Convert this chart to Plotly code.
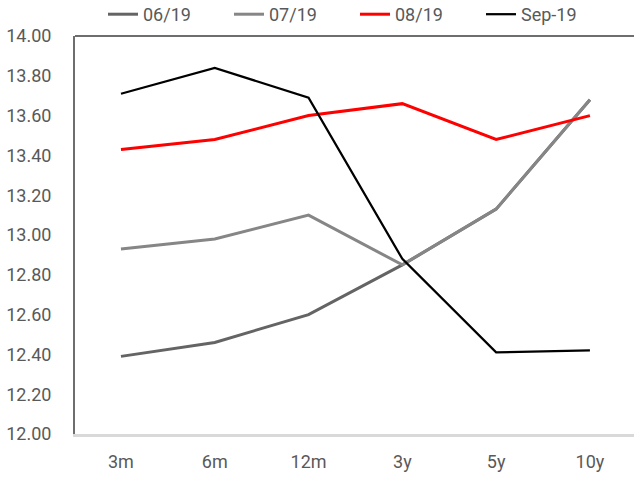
import plotly.graph_objects as go

categories = ["3m", "6m", "12m", "3y", "5y", "10y"]
s_0619 = [12.39, 12.46, 12.60, 12.85, 13.13, 13.68]
s_0719 = [12.93, 12.98, 13.10, 12.85, 13.13, 13.68]
s_0819 = [13.43, 13.48, 13.60, 13.66, 13.48, 13.60]
s_sep19 = [13.71, 13.84, 13.69, 12.88, 12.41, 12.42]
y_ticks = [12.0, 12.2, 12.4, 12.6, 12.8, 13.0, 13.2, 13.4, 13.6, 13.8, 14.0]

FONT = "Roboto, Liberation Sans, sans-serif"
TXT = "#595959"

series = [
    ("06/19", s_0619, "#646464", 3),
    ("07/19", s_0719, "#868686", 3),
    ("08/19", s_0819, "#FF0000", 3),
    ("Sep-19", s_sep19, "#000000", 2.25),
]

fig = go.Figure()
for name, vals, col, w in series:
    fig.add_trace(go.Scatter(x=categories, y=vals, name=name, mode="lines",
                             line=dict(color=col, width=w)))

fig.update_layout(
    width=634, height=478,
    margin=dict(l=75, r=0, t=36, b=44, autoexpand=False),
    paper_bgcolor="white", plot_bgcolor="white",
    font=dict(family=FONT, size=18, color=TXT),
    showlegend=True,
    legend=dict(orientation="h", xref="container", x=103 / 634, xanchor="left",
                yref="paper", y=1 + 40 / 398, yanchor="top",
                entrywidth=81, entrywidthmode="pixels",
                font=dict(family=FONT, size=18, color=TXT),
                bgcolor="rgba(0,0,0,0)", borderwidth=0),
    xaxis=dict(type="category", range=[-0.49, 5.47], showgrid=False,
               showline=True, linecolor="#D9D9D9", linewidth=2.5,
               ticks="", ticklabelstandoff=10, zeroline=False, automargin=False),
    yaxis=dict(range=[12.0, 14.0], tickvals=y_ticks, tickformat=".2f",
               showgrid=False, showline=True, linecolor="#6E6E6E", linewidth=2,
               ticks="", ticklabelstandoff=18, zeroline=False, automargin=False),
    shapes=[dict(type="line", xref="paper", yref="paper", x0=0, x1=1, y0=1, y1=1,
                 line=dict(color="#6E6E6E", width=2))],
)

fig.write_html("out.html", config={"displayModeBar": False},
               post_script="document.body.style.margin='0';")
